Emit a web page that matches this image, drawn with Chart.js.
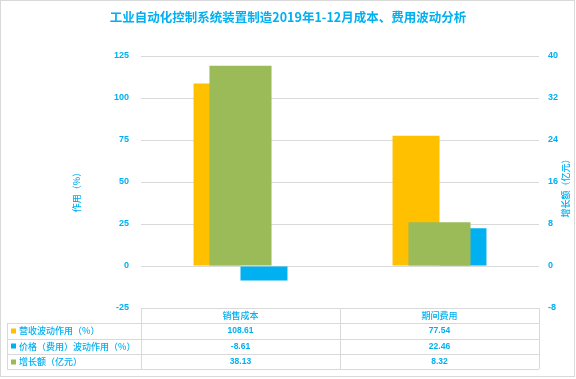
<!DOCTYPE html>
<html>
<head>
<meta charset="utf-8">
<script src="https://cdn.jsdelivr.net/npm/chart.js@4"></script>
<style>
  html, body { margin: 0; padding: 0; background: #fff; }
  #wrap { width: 576px; height: 379px; }
</style>
</head>
<body>
<div id="wrap"><canvas id="costChart" width="576" height="379"></canvas></div>
<script>
// chart values
const chartTitle = '工业自动化控制系统装置制造2019年1-12月成本、费用波动分析';
const categories = ['销售成本', '期间费用'];
const revenueEffect = [108.61, 77.54];   // 营收波动作用（%）
const priceEffect = [-8.61, 22.46];      // 价格（费用）波动作用（%）
const growthAmount = [38.13, 8.32];      // 增长额（亿元）
const seriesNames = ['营收波动作用（%）', '价格（费用）波动作用（%）', '增长额（亿元）'];
const leftAxisTitle = '作用（%）';
const rightAxisTitle = '增长额（亿元）';
const leftTicks = { min: -25, max: 125, step: 25 };
const rightTicks = { min: -8, max: 40, step: 8 };

const textBlue = '#00B0F0';
const gridGray = '#D9D9D9';
const colors = ['#FFC000', '#00B0F0', '#9BBB59'];
const cjk = '"Noto Sans CJK SC", "Liberation Sans", sans-serif';

// draws title, axis titles, the data table and the outer frame
const extrasPlugin = {
  id: 'extras',
  afterDraw(chart) {
    const ctx = chart.ctx;
    const area = chart.chartArea;
    const xs = chart.scales.x;
    const all = [revenueEffect, priceEffect, growthAmount];
    ctx.save();

    // title
    ctx.fillStyle = textBlue;
    ctx.font = 'bold 12.5px ' + cjk;
    ctx.textAlign = 'center';
    ctx.textBaseline = 'middle';
    ctx.fillText(chartTitle, chart.width / 2, 17);

    // axis titles (both read bottom to top)
    ctx.font = '500 9px ' + cjk;
    ctx.save();
    ctx.translate(77, 190);
    ctx.rotate(-Math.PI / 2);
    ctx.fillText(leftAxisTitle, 0, 0);
    ctx.restore();
    ctx.save();
    ctx.translate(566, 186);
    ctx.rotate(-Math.PI / 2);
    ctx.fillText(rightAxisTitle, 0, 0);
    ctx.restore();

    // data table
    const top = area.bottom;
    const rowH = 15.3;
    const tableLeft = 7;
    const bottom = top + rowH * 4;
    const half = (xs.getPixelForValue(1) - xs.getPixelForValue(0)) / 2;
    const colEdges = [area.left];
    categories.forEach((c, i) => colEdges.push(xs.getPixelForValue(i) + half));

    ctx.strokeStyle = gridGray;
    ctx.lineWidth = 1;
    ctx.beginPath();
    ctx.moveTo(area.left, Math.round(top) + 0.5);
    ctx.lineTo(area.right, Math.round(top) + 0.5);
    for (let r = 1; r <= 4; r++) {
      const y = Math.round(top + rowH * r) + 0.5;
      ctx.moveTo(tableLeft, y);
      ctx.lineTo(area.right, y);
    }
    colEdges.forEach(x => {
      ctx.moveTo(Math.round(x) + 0.5, top);
      ctx.lineTo(Math.round(x) + 0.5, bottom);
    });
    ctx.moveTo(tableLeft + 0.5, top + rowH);
    ctx.lineTo(tableLeft + 0.5, bottom);
    ctx.stroke();

    ctx.fillStyle = textBlue;
    ctx.textAlign = 'center';
    ctx.font = '500 9px ' + cjk;
    categories.forEach((c, i) => {
      ctx.fillText(c, xs.getPixelForValue(i), top + rowH / 2);
    });
    ctx.font = 'bold 8.5px "Liberation Sans", sans-serif';
    all.forEach((vals, r) => {
      const y = top + rowH * (r + 1.5);
      vals.forEach((v, i) => ctx.fillText(v.toFixed(2), xs.getPixelForValue(i), y));
    });
    ctx.textAlign = 'left';
    ctx.font = '500 9px ' + cjk;
    seriesNames.forEach((name, r) => {
      const y = top + rowH * (r + 1.5);
      ctx.fillStyle = colors[r];
      ctx.fillRect(11, Math.round(y) - 2.5, 5, 5);
      ctx.fillStyle = textBlue;
      ctx.fillText(name, 19, y);
    });

    // outer frame
    ctx.strokeStyle = gridGray;
    ctx.strokeRect(0.5, 0.5, chart.width - 2, 376);
    ctx.restore();
  }
};

const ctx = document.getElementById('costChart').getContext('2d');
window.costChart = new Chart(ctx, {
  type: 'bar',
  data: {
    labels: categories,
    datasets: [
      {
        label: seriesNames[0],
        data: revenueEffect,
        backgroundColor: colors[0],
        yAxisID: 'y',
        categoryPercentage: 0.472,
        barPercentage: 1,
        order: 2
      },
      {
        label: seriesNames[1],
        data: priceEffect,
        backgroundColor: colors[1],
        yAxisID: 'y',
        categoryPercentage: 0.472,
        barPercentage: 1,
        order: 2
      },
      {
        label: seriesNames[2],
        data: growthAmount,
        backgroundColor: colors[2],
        yAxisID: 'y1',
        grouped: false,       // sits centred over the other two
        categoryPercentage: 0.312,
        barPercentage: 1,
        order: 1
      }
    ]
  },
  options: {
    responsive: false,
    animation: false,
    layout: { padding: { top: 56, bottom: 71, left: 0, right: 0 } },
    plugins: {
      legend: { display: false },
      title: { display: false },
      tooltip: { enabled: false }
    },
    scales: {
      x: { display: false },
      y: {
        position: 'left',
        min: leftTicks.min,
        max: leftTicks.max,
        afterFit: axis => { axis.width = 141; },
        ticks: {
          stepSize: leftTicks.step,
          padding: 12,
          color: textBlue,
          font: { family: '"Liberation Sans", sans-serif', size: 9, weight: 'bold' }
        },
        grid: { color: gridGray, drawTicks: false },
        border: { display: false }
      },
      y1: {
        position: 'right',
        min: rightTicks.min,
        max: rightTicks.max,
        afterFit: axis => { axis.width = 37; },
        ticks: {
          stepSize: rightTicks.step,
          padding: 9,
          color: textBlue,
          font: { family: '"Liberation Sans", sans-serif', size: 9, weight: 'bold' }
        },
        grid: { drawOnChartArea: false, drawTicks: false },
        border: { display: false }
      }
    }
  },
  plugins: [extrasPlugin]
});
</script>
</body>
</html>
